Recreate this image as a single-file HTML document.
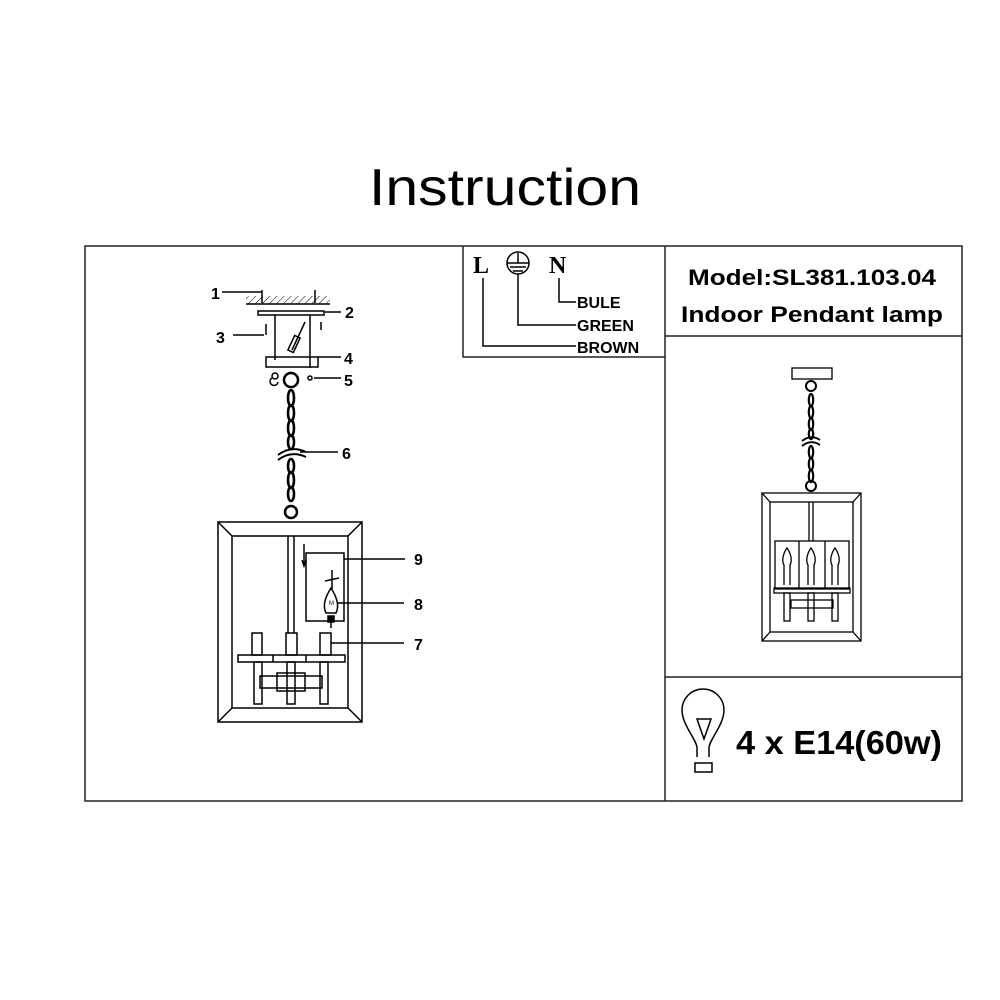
<!DOCTYPE html>
<html><head><meta charset="utf-8"><style>
html,body{margin:0;padding:0;background:#fff}
svg{display:block}
text{font-family:"Liberation Sans",sans-serif;fill:#000}
</style></head><body>
<svg width="1000" height="1000" viewBox="0 0 1000 1000" xmlns="http://www.w3.org/2000/svg">
<defs>
<pattern id="hatch" width="5" height="5" patternUnits="userSpaceOnUse" patternTransform="rotate(45)">
<line x1="0" y1="0" x2="0" y2="5" stroke="#000" stroke-width="1"/></pattern>
</defs>
<text x="505" y="205" font-size="52" text-anchor="middle" textLength="272" lengthAdjust="spacingAndGlyphs">Instruction</text>
<g fill="none" stroke="#222" stroke-width="1.5">
<rect x="85" y="246" width="877" height="555"/>
<line x1="665" y1="246" x2="665" y2="801"/>
<line x1="665" y1="336" x2="962" y2="336"/>
<line x1="665" y1="677" x2="962" y2="677"/>
<polyline points="463,246 463,357 665,357"/>
</g>
<text x="473" y="273" font-size="24" font-weight="bold" style="font-family:'Liberation Serif',serif">L</text>
<text x="549" y="273" font-size="24" font-weight="bold" style="font-family:'Liberation Serif',serif">N</text>
<g fill="none" stroke="#000" stroke-width="1.5">
<circle cx="518" cy="263" r="11"/>
<line x1="507" y1="263" x2="529" y2="263"/><line x1="510" y1="267" x2="526" y2="267"/><line x1="513" y1="271" x2="523" y2="271"/>
<line x1="518" y1="253" x2="518" y2="263"/>
<polyline points="483,278 483,346 576,346"/>
<polyline points="518,274 518,325 576,325"/>
<polyline points="559,278 559,302 576,302"/>
</g>
<g font-weight="bold" font-size="16">
<text x="577" y="308">BULE</text><text x="577" y="331">GREEN</text><text x="577" y="353">BROWN</text>
</g>
<g font-weight="bold" font-size="22" text-anchor="middle">
<text x="812" y="285" textLength="248" lengthAdjust="spacingAndGlyphs">Model:SL381.103.04</text>
<text x="812" y="322" textLength="262" lengthAdjust="spacingAndGlyphs">Indoor Pendant lamp</text>
</g>
<g fill="none" stroke="#000" stroke-width="1.5">
<path d="M697,757 L697,748 C697,740 682,725 682,710 A21,21 0 1 1 724,710 C724,725 709,740 709,748 L709,757"/>
<path d="M697,719 L711,719 L704,739 Z"/>
<rect x="695" y="763" width="17" height="9"/>
</g>
<text x="736" y="754" font-size="33" font-weight="bold" textLength="206" lengthAdjust="spacingAndGlyphs">4 x E14(60w)</text>
<!-- small lamp right -->
<g fill="none" stroke="#000" stroke-width="1.3">
<rect x="792" y="368" width="40" height="11"/>
<circle cx="811" cy="386" r="5" stroke-width="2"/>
<g stroke-width="2.2">
<ellipse cx="811" cy="400" rx="2.2" ry="6"/><ellipse cx="811" cy="412" rx="2.2" ry="6"/><ellipse cx="811" cy="424" rx="2.2" ry="6"/><ellipse cx="811" cy="434" rx="2.2" ry="5"/>
<ellipse cx="811" cy="452" rx="2.2" ry="6"/><ellipse cx="811" cy="464" rx="2.2" ry="6"/><ellipse cx="811" cy="476" rx="2.2" ry="6"/>
</g>
<path d="M802,441 Q811,434 820,440 M802,446 Q811,439 820,445" stroke-width="1.8"/>
<circle cx="811" cy="486" r="5" stroke-width="2"/>
<rect x="762" y="493" width="99" height="148"/>
<rect x="770" y="502" width="83" height="130"/>
<line x1="762" y1="493" x2="770" y2="502"/><line x1="861" y1="493" x2="853" y2="502"/><line x1="762" y1="641" x2="770" y2="632"/><line x1="861" y1="641" x2="853" y2="632"/>
<line x1="809" y1="502" x2="809" y2="541"/><line x1="813" y1="502" x2="813" y2="541"/>
<rect x="775" y="541" width="74" height="48"/>
<line x1="799" y1="541" x2="799" y2="589"/><line x1="825" y1="541" x2="825" y2="589"/>
<path d="M784,585 L784,565 C781,560 784,552 787,548 C790,552 793,560 790,565 L790,585"/>
<path d="M808,585 L808,565 C805,560 808,552 811,548 C814,552 817,560 814,565 L814,585"/>
<path d="M832,585 L832,565 C829,560 832,552 835,548 C838,552 841,560 838,565 L838,585"/>
<rect x="774" y="588" width="76" height="5"/>
<rect x="791" y="600" width="42" height="8"/>
<rect x="784" y="593" width="6" height="28"/><rect x="808" y="593" width="6" height="28"/><rect x="832" y="593" width="6" height="28"/>
</g>
<!-- exploded view -->
<rect x="246" y="296" width="84" height="8" fill="url(#hatch)"/>
<g fill="none" stroke="#000" stroke-width="1.5">
<line x1="246" y1="304" x2="330" y2="304"/>
<line x1="222" y1="292" x2="262" y2="292"/>
<line x1="262" y1="290" x2="262" y2="303"/><line x1="315" y1="290" x2="315" y2="303"/>
<rect x="258" y="311" width="66" height="4"/>
<line x1="325" y1="312" x2="341" y2="312"/>
<line x1="275" y1="315" x2="275" y2="360"/><line x1="310" y1="315" x2="310" y2="368"/>
<line x1="233" y1="335" x2="264" y2="335"/><line x1="266" y1="324" x2="266" y2="335"/>
<line x1="305" y1="322" x2="292" y2="350"/><rect x="291" y="336" width="6" height="16" transform="rotate(25 294 344)"/>
<line x1="321" y1="322" x2="321" y2="330"/>
<rect x="266" y="357" width="52" height="10"/>
<line x1="318" y1="357" x2="341" y2="357"/>
<circle cx="275" cy="376" r="3"/><path d="M272,378 a4,4 0 1 0 6,4"/>
<circle cx="310" cy="378" r="2"/><line x1="314" y1="378" x2="341" y2="378"/>
<circle cx="291" cy="380" r="7" stroke-width="2.5"/>
<g stroke-width="2.6">
<ellipse cx="291" cy="398" rx="3" ry="8"/><ellipse cx="291" cy="413" rx="3" ry="8"/><ellipse cx="291" cy="428" rx="3" ry="8"/><ellipse cx="291" cy="442" rx="3" ry="7"/>
<ellipse cx="291" cy="466" rx="3" ry="7"/><ellipse cx="291" cy="480" rx="3" ry="8"/><ellipse cx="291" cy="494" rx="3" ry="7"/>
</g>
<path d="M278,455 Q291,445 306,452 M278,460 Q291,450 306,457" stroke-width="2"/>
<line x1="300" y1="452" x2="338" y2="452"/>
<circle cx="291" cy="512" r="6" stroke-width="2.5"/>
<rect x="218" y="522" width="144" height="200"/>
<rect x="232" y="536" width="116" height="172"/>
<line x1="218" y1="522" x2="232" y2="536"/><line x1="362" y1="522" x2="348" y2="536"/><line x1="218" y1="722" x2="232" y2="708"/><line x1="362" y1="722" x2="348" y2="708"/>
<line x1="288" y1="536" x2="288" y2="633"/><line x1="294" y1="536" x2="294" y2="633"/>
<line x1="304" y1="544" x2="304" y2="566"/><path d="M302,560 L304,566 L306,560"/>
<rect x="306" y="553" width="38" height="68"/>
<line x1="344" y1="559" x2="405" y2="559"/>
<line x1="332" y1="570" x2="332" y2="589"/><path d="M325,581 L339,578"/>
<path d="M326,613 C322,605 326,596 331,588 C336,596 340,605 336,613 Z"/>
<line x1="337" y1="603" x2="404" y2="603"/>
<rect x="328" y="616" width="6" height="6" fill="#000"/>
<line x1="331" y1="622" x2="331" y2="628"/>
<rect x="252" y="633" width="10" height="22"/><rect x="286" y="633" width="11" height="22"/><rect x="320" y="633" width="11" height="22"/>
<line x1="331" y1="643" x2="404" y2="643"/>
<rect x="238" y="655" width="107" height="7"/>
<line x1="273" y1="655" x2="273" y2="662"/><line x1="306" y1="655" x2="306" y2="662"/>
<rect x="260" y="676" width="62" height="12"/><rect x="277" y="673" width="28" height="18"/>
<rect x="254" y="662" width="8" height="42"/><rect x="287" y="662" width="8" height="42"/><rect x="320" y="662" width="8" height="42"/>
</g>
<g font-weight="bold" font-size="16">
<text x="211" y="299">1</text><text x="345" y="318">2</text><text x="216" y="343">3</text>
<text x="344" y="364">4</text><text x="344" y="386">5</text><text x="342" y="459">6</text>
<text x="414" y="565">9</text><text x="414" y="610">8</text><text x="414" y="650">7</text>
</g>
<text x="329" y="605" font-size="6">M</text>
</svg>
</body></html>
